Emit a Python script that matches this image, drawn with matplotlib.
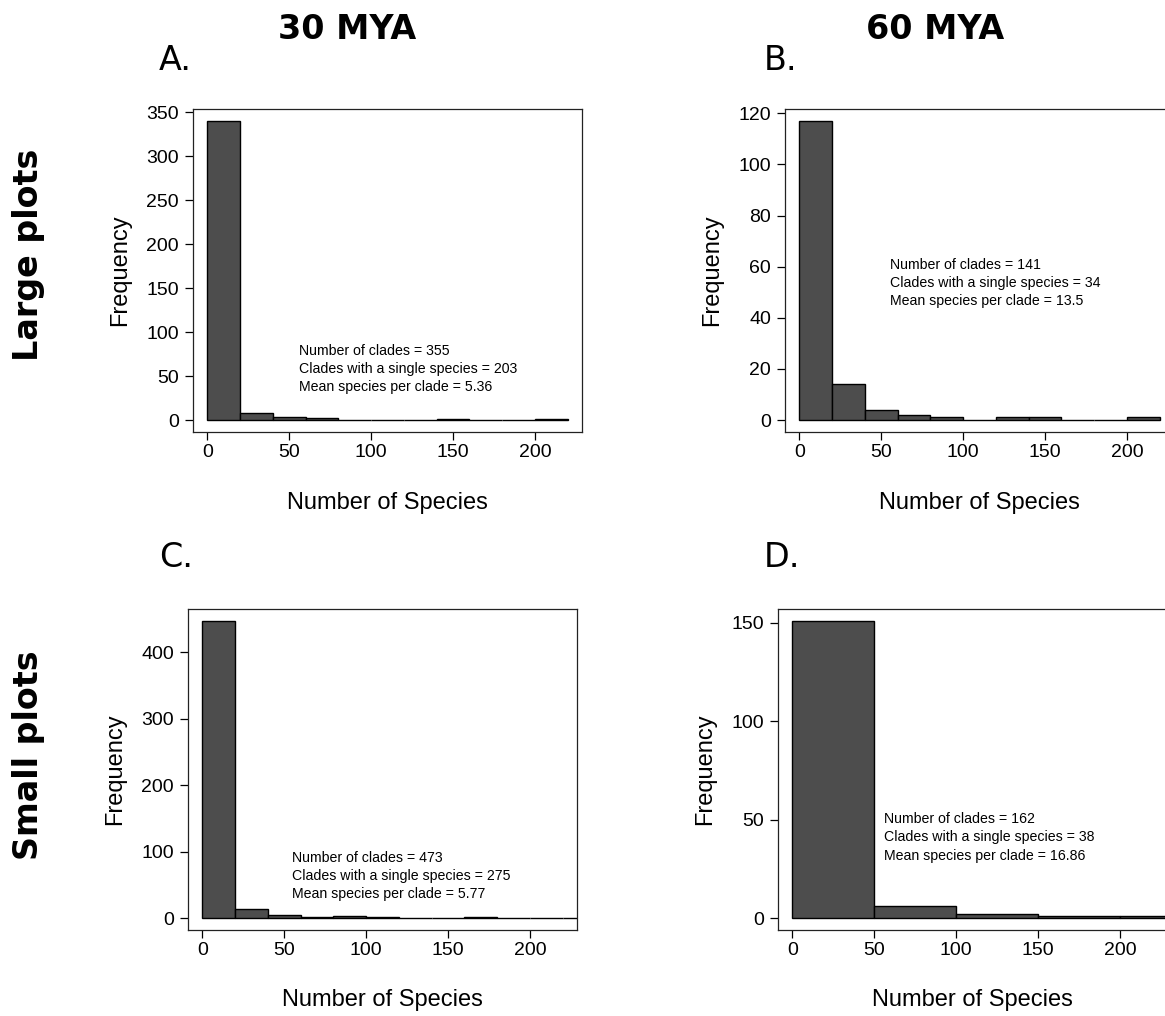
import numpy as np
import matplotlib
matplotlib.use("Agg")
import matplotlib.pyplot as plt

# ---- data ----
breaks_a = [0, 20, 40, 60, 80, 100, 120, 140, 160, 180, 200, 220]
counts_a = [340, 8, 3, 2, 0, 0, 0, 1, 0, 0, 1]

breaks_b = [0, 20, 40, 60, 80, 100, 120, 140, 160, 180, 200, 220]
counts_b = [117, 14, 4, 2, 1, 0, 1, 1, 0, 0, 1]

breaks_c = [0, 20, 40, 60, 80, 100, 120, 140, 160, 180, 200, 220, 240]
counts_c = [447, 13, 5, 1, 3, 1, 0, 0, 1, 0, 0, 0]

breaks_d = [0, 50, 100, 150, 200, 250]
counts_d = [151, 6, 2, 1, 1]

stats_a = ["Number of clades = 355", "Clades with a single species = 203", "Mean species per clade = 5.36"]
stats_b = ["Number of clades = 141", "Clades with a single species = 34", "Mean species per clade = 13.5"]
stats_c = ["Number of clades = 473", "Clades with a single species = 275", "Mean species per clade = 5.77"]
stats_d = ["Number of clades = 162", "Clades with a single species = 38", "Mean species per clade = 16.86"]

yticks_a = [0, 50, 100, 150, 200, 250, 300, 350]
yticks_b = [0, 20, 40, 60, 80, 100, 120]
yticks_c = [0, 100, 200, 300, 400]
yticks_d = [0, 50, 100, 150]
xticks = [0, 50, 100, 150, 200]

col_titles = ["30 MYA", "60 MYA"]
row_titles = ["Large plots", "Small plots"]
panel_letters = ["A.", "B.", "C.", "D."]

# ---- figure ----
W, H = 1165, 1016
fig = plt.figure(figsize=(W / 100, H / 100), dpi=100)
fig.patch.set_facecolor("white")

SANS = "Liberation Sans"

def px_axes(left, top, right, bottom):
    return fig.add_axes([left / W, 1 - bottom / H, (right - left) / W, (bottom - top) / H])

panels = [
    (px_axes(193, 109, 582, 432), breaks_a, counts_a, yticks_a, stats_a, (56, 58)),
    (px_axes(785, 109, 1174, 432), breaks_b, counts_b, yticks_b, stats_b, (55.5, 53.5)),
    (px_axes(188, 609, 577, 930), breaks_c, counts_c, yticks_c, stats_c, (55, 63)),
    (px_axes(778, 609, 1167, 930), breaks_d, counts_d, yticks_d, stats_d, (56, 41)),
]

for ax, brk, cnt, yt, st, (tx, ty) in panels:
    edges = np.array(brk, dtype=float)
    ax.bar(edges[:-1], cnt, width=np.diff(edges), align="edge",
           color="#4d4d4d", edgecolor="black", linewidth=1.0)
    xmin, xmax = 0, 220
    dx = 0.04 * (xmax - xmin)
    ax.set_xlim(xmin - dx, xmax + dx)
    ymax = max(cnt)
    ax.set_ylim(-0.04 * ymax, ymax * 1.04)
    ax.set_xticks(xticks)
    ax.set_yticks(yt)
    ax.tick_params(axis="both", direction="out", length=6, width=0.9,
                   labelsize=14, colors="black")
    ax.tick_params(axis="x", pad=2.5)
    ax.tick_params(axis="y", pad=4)
    for lab in ax.get_xticklabels() + ax.get_yticklabels():
        lab.set_fontfamily(SANS)
    for sp in ax.spines.values():
        sp.set_linewidth(0.9)
        sp.set_color("#222222")
    ax.set_xlabel("Number of Species", fontsize=17, fontfamily=SANS)
    ax.set_ylabel("Frequency", fontsize=17, fontfamily=SANS)
    ax.xaxis.set_label_coords(0.5, -0.185)
    ax.yaxis.set_label_coords(-0.16, 0.5)
    ax.text(tx, ty, "\n".join(st), fontsize=10.2, fontfamily=SANS,
            ha="left", va="center", linespacing=1.38)

# panel letters
letter_pos = [(159, 70), (764, 70), (159, 567), (764, 567)]
for (x, y), lab in zip(letter_pos, panel_letters):
    fig.text(x / W, 1 - y / H, lab, fontsize=24, fontfamily="DejaVu Sans",
             ha="left", va="baseline")

# column titles
for (x, y), t in zip([(347, 39), (935, 39)], col_titles):
    fig.text(x / W, 1 - y / H, t, fontsize=24, fontweight="bold",
             fontfamily="DejaVu Sans", ha="center", va="baseline")

# row titles
for (x, y), t in zip([(29, 255), (29, 755)], row_titles):
    fig.text(x / W, 1 - y / H, t, fontsize=24, fontweight="bold",
             fontfamily="DejaVu Sans", ha="center", va="center", rotation=90)

fig.savefig("out.png", dpi=100, facecolor="white")
